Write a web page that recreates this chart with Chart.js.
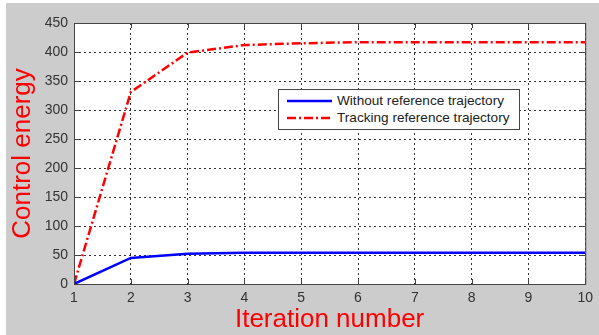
<!DOCTYPE html>
<html>
<head>
<meta charset="utf-8">
<script src="https://cdn.jsdelivr.net/npm/chart.js@4"></script>
<style>
  html, body { margin: 0; padding: 0; background: #ffffff; }
  #wrap { position: relative; width: 599px; height: 335px; }
  #legend {
    position: absolute; left: 278px; top: 89px; width: 242px; height: 41px;
    background: #fff; border: 1px solid #444; box-sizing: border-box;
    font-family: "Liberation Sans", Arial, sans-serif; font-size: 13.6px; color: #222;
  }
  .row { position: absolute; left: 8px; height: 16px; line-height: 16px; }
  .row span { position: absolute; left: 50px; white-space: nowrap; }
  .row canvas { position: absolute; left: 0; top: 4px; }
</style>
</head>
<body>
<div id="wrap">
  <canvas id="chart" width="599" height="335"></canvas>
  <div id="legend">
    <div class="row" style="top:3px"><canvas id="l1" width="45" height="8"></canvas><span>Without reference trajectory</span></div>
    <div class="row" style="top:20px"><canvas id="l2" width="45" height="8"></canvas><span>Tracking reference trajectory</span></div>
  </div>
</div>
<script>
// iterations and energy per iteration
const iterations = [1, 2, 3, 4, 5, 6, 7, 8, 9, 10];
const withoutRef = [0, 45, 52, 54, 54, 54, 54, 54, 54, 54];
const trackingRef = [0, 331, 399, 412, 415, 417, 417, 417, 417, 417];
const yTicks = [0, 50, 100, 150, 200, 250, 300, 350, 400, 450];

const redDash = [9, 3, 2, 3];

// small legend swatches
function swatch(id, color, dash) {
    const c = document.getElementById(id).getContext('2d');
    c.strokeStyle = color;
    c.lineWidth = 2.5;
    c.setLineDash(dash);
    c.beginPath();
    c.moveTo(0, 4);
    c.lineTo(45, 4);
    c.stroke();
}
swatch('l1', '#0000ff', []);
swatch('l2', '#ff0000', redDash);

// box + inner tick marks like matlab
const boxPlugin = {
    id: 'box',
    afterDraw(chart) {
        const { ctx, chartArea: a, scales } = chart;
        ctx.save();
        ctx.strokeStyle = '#444';
        ctx.lineWidth = 1;
        ctx.strokeRect(a.left + 0.5, a.top + 0.5, a.right - a.left, a.bottom - a.top);
        ctx.beginPath();
        iterations.forEach(v => {
            const x = Math.round(scales.x.getPixelForValue(v)) + 0.5;
            ctx.moveTo(x, a.bottom); ctx.lineTo(x, a.bottom - 5);
            ctx.moveTo(x, a.top); ctx.lineTo(x, a.top + 5);
        });
        yTicks.forEach(v => {
            const y = Math.round(scales.y.getPixelForValue(v)) + 0.5;
            ctx.moveTo(a.left, y); ctx.lineTo(a.left + 5, y);
            ctx.moveTo(a.right, y); ctx.lineTo(a.right - 5, y);
        });
        ctx.stroke();
        ctx.restore();
    }
};

const bgPlugin = {
    id: 'bg',
    beforeDraw(chart) {
        const { ctx, chartArea: a, width, height } = chart;
        ctx.save();
        ctx.fillStyle = '#cccccc';
        ctx.fillRect(6, 3, width - 6, height - 3);
        ctx.fillStyle = '#ffffff';
        ctx.fillRect(a.left, a.top, a.right - a.left, a.bottom - a.top);
        ctx.restore();
    }
};

const tickFont = { family: '"Liberation Sans", Arial, sans-serif', size: 14 };
const titleFont = { family: '"Liberation Sans", Arial, sans-serif', size: 26 };

new Chart(document.getElementById('chart'), {
    type: 'line',
    data: {
        datasets: [
            {
                label: 'Without reference trajectory',
                data: iterations.map((x, i) => ({ x: x, y: withoutRef[i] })),
                borderColor: '#0000ff',
                borderWidth: 2.5,
                pointRadius: 0,
                tension: 0
            },
            {
                label: 'Tracking reference trajectory',
                data: iterations.map((x, i) => ({ x: x, y: trackingRef[i] })),
                borderColor: '#ff0000',
                borderWidth: 2.5,
                borderDash: redDash,
                pointRadius: 0,
                tension: 0
            }
        ]
    },
    options: {
        responsive: false,
        animation: false,
        layout: { padding: { top: 23, right: 13, left: 0, bottom: 0 } },
        plugins: { legend: { display: false }, tooltip: { enabled: false } },
        scales: {
            x: {
                type: 'linear', min: 1, max: 10,
                afterBuildTicks: s => { s.ticks = iterations.map(v => ({ value: v })); },
                afterFit: s => { s.height = 51; },
                grid: { color: '#333', tickLength: 0, drawTicks: false },
                border: { display: false, dash: [2, 3] },
                ticks: { color: '#333', font: tickFont, padding: 6, maxRotation: 0 },
                title: { display: true, text: 'Iteration number', color: '#ff0000', font: titleFont, padding: { top: 1, bottom: 0 } }
            },
            y: {
                min: 0, max: 450,
                afterBuildTicks: s => { s.ticks = yTicks.map(v => ({ value: v })); },
                afterFit: s => { s.width = 74; },
                grid: { color: '#333', tickLength: 0, drawTicks: false },
                border: { display: false, dash: [2, 3] },
                ticks: { color: '#333', font: tickFont, padding: 6 },
                title: { display: true, text: 'Control energy', color: '#ff0000', font: titleFont, padding: { top: 7, bottom: 0 } }
            }
        }
    },
    plugins: [bgPlugin, boxPlugin]
});
</script>
</body>
</html>
